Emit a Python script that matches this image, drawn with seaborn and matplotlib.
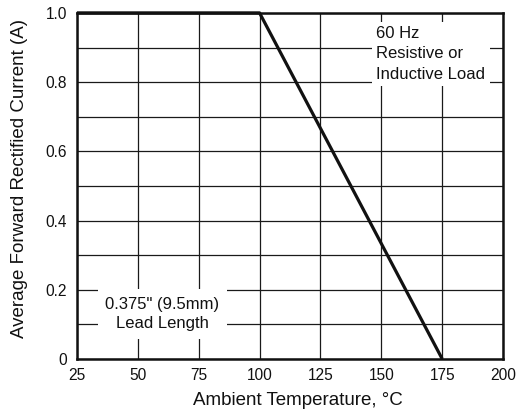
import matplotlib
matplotlib.use("Agg")
import matplotlib.pyplot as plt
import seaborn as sns
import pandas as pd

# Data
temperature = [25, 100, 175]
current = [1.0, 1.0, 0.0]
x_ticks = [25, 50, 75, 100, 125, 150, 175, 200]
y_ticks = [0, 0.2, 0.4, 0.6, 0.8, 1.0]
y_tick_labels = ["0", "0.2", "0.4", "0.6", "0.8", "1.0"]
y_minor = [0.1, 0.3, 0.5, 0.7, 0.9]

df = pd.DataFrame({"Temperature": temperature, "Current": current})

sns.set_style("white")
plt.rcParams["font.family"] = ["Liberation Sans", "DejaVu Sans"]

fig = plt.figure(figsize=(5.23, 4.16), dpi=100)
ax = fig.add_axes([0.147, 0.137, 0.815, 0.832])

# grid
for xv in x_ticks:
    ax.axvline(xv, color="#1a1a1a", lw=0.9, zorder=1)
for yv in y_ticks + y_minor:
    ax.axhline(yv, color="#1a1a1a", lw=0.9, zorder=1)

sns.lineplot(data=df, x="Temperature", y="Current", ax=ax, color="#111111",
             lw=2.3, zorder=5, clip_on=False, solid_capstyle="butt")

ax.set_xlim(25, 200)
ax.set_ylim(0, 1.0)
ax.set_xticks(x_ticks)
ax.set_xticklabels([str(v) for v in x_ticks])
ax.set_yticks(y_ticks)
ax.set_yticklabels(y_tick_labels)
ax.tick_params(axis="both", length=0, labelsize=11.2, colors="#111111")
ax.tick_params(axis="x", pad=6.5)
ax.tick_params(axis="y", pad=7)

for s in ax.spines.values():
    s.set_visible(True)
    s.set_color("#111111")
    s.set_linewidth(1.8)
    s.set_zorder(6)

ax.set_xlabel("Ambient Temperature, °C", fontsize=13.5, color="#111111")
ax.set_ylabel("Average Forward Rectified Current (A)", fontsize=13.5, color="#111111")
ax.xaxis.set_label_coords(0.518, -0.095)
ax.yaxis.set_label_coords(-0.115, 0.522)

ax.text(148, 0.963, "60 Hz\nResistive or\nInductive Load", fontsize=12,
        ha="left", va="top", linespacing=1.45, color="#111111", zorder=4,
        bbox=dict(boxstyle="square,pad=0.25", fc="white", ec="none"))
ax.text(60, 0.13, "0.375\" (9.5mm)\nLead Length", fontsize=12,
        ha="center", va="center", linespacing=1.4, color="#111111", zorder=4,
        bbox=dict(boxstyle="square,pad=0.45", fc="white", ec="none"))

fig.savefig("out.png", dpi=100)
